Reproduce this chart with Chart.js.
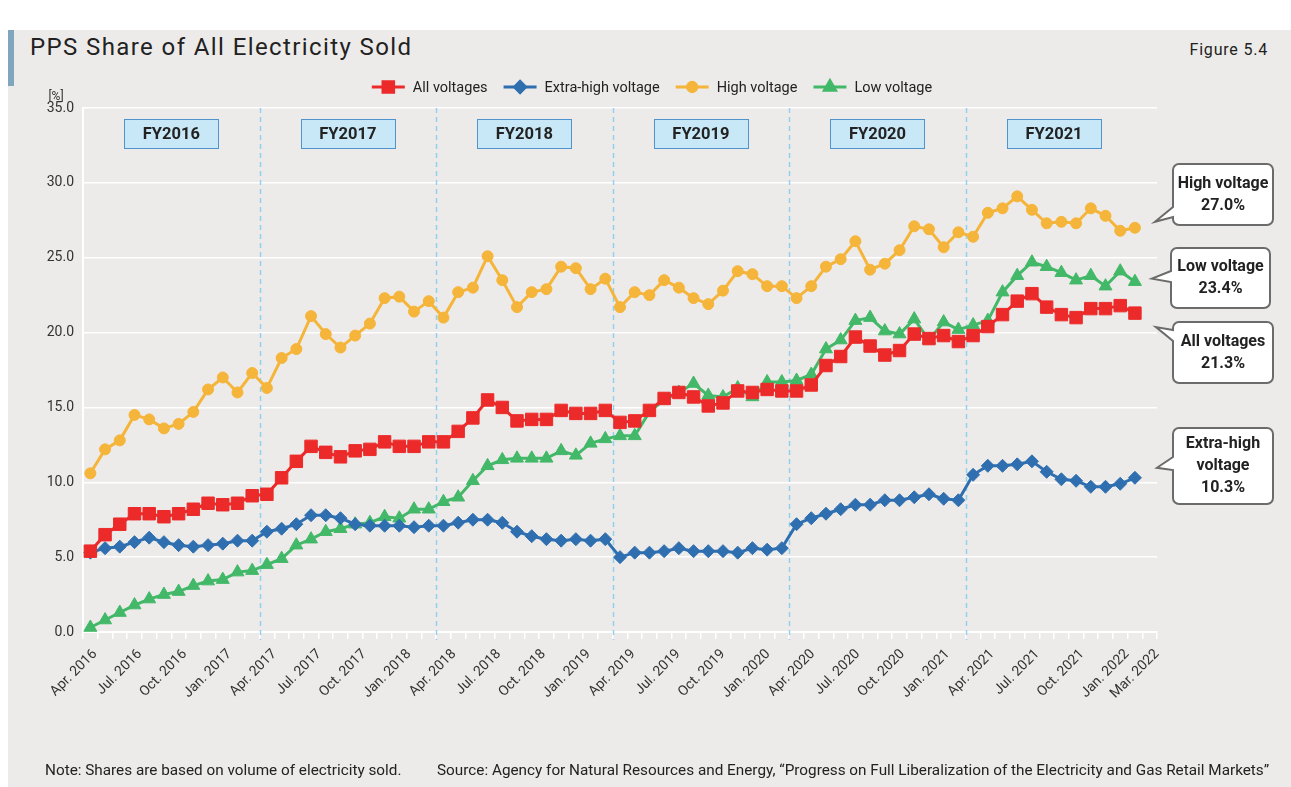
<!DOCTYPE html>
<html>
<head>
<meta charset="utf-8">
<script src="https://cdn.jsdelivr.net/npm/chart.js@4.4.1/dist/chart.umd.min.js"></script>
<style>
  html, body { margin: 0; padding: 0; }
  body { width: 1291px; height: 787px; position: relative; overflow: hidden; background: #fff;
         font-family: Roboto, 'DejaVu Sans', sans-serif; color: #222; }
  #card { position: absolute; left: 8px; top: 30px; right: 0; bottom: 0; background: #edebe9; }
  #bar { position: absolute; left: 8px; top: 30px; width: 6px; height: 56px; background: #7fa6bd; }
  #title { position: absolute; left: 30px; top: 33px; font-size: 24px; letter-spacing: 1.4px; }
  #fig { position: absolute; right: 23px; top: 40px; font-size: 16px; letter-spacing: 0.8px; }
  .foot { position: absolute; top: 761px; font-size: 15.3px; white-space: nowrap; }
  #chart { position: absolute; left: 0; top: 0; }
</style>
</head>
<body>
<div id="card"></div>
<div id="bar"></div>
<div id="title">PPS Share of All Electricity Sold</div>
<div id="fig">Figure 5.4</div>
<canvas id="chart" width="1291" height="787"></canvas>
<div class="foot" style="left:45px">Note: Shares are based on volume of electricity sold.</div>
<div class="foot" style="left:437px">Source: Agency for Natural Resources and Energy, “Progress on Full Liberalization of the Electricity and Gas Retail Markets”</div>
<script>
// months Apr. 2016 - Mar. 2022
const months = [
  'Apr. 2016','May 2016','Jun. 2016','Jul. 2016','Aug. 2016','Sep. 2016','Oct. 2016','Nov. 2016','Dec. 2016','Jan. 2017','Feb. 2017','Mar. 2017',
  'Apr. 2017','May 2017','Jun. 2017','Jul. 2017','Aug. 2017','Sep. 2017','Oct. 2017','Nov. 2017','Dec. 2017','Jan. 2018','Feb. 2018','Mar. 2018',
  'Apr. 2018','May 2018','Jun. 2018','Jul. 2018','Aug. 2018','Sep. 2018','Oct. 2018','Nov. 2018','Dec. 2018','Jan. 2019','Feb. 2019','Mar. 2019',
  'Apr. 2019','May 2019','Jun. 2019','Jul. 2019','Aug. 2019','Sep. 2019','Oct. 2019','Nov. 2019','Dec. 2019','Jan. 2020','Feb. 2020','Mar. 2020',
  'Apr. 2020','May 2020','Jun. 2020','Jul. 2020','Aug. 2020','Sep. 2020','Oct. 2020','Nov. 2020','Dec. 2020','Jan. 2021','Feb. 2021','Mar. 2021',
  'Apr. 2021','May 2021','Jun. 2021','Jul. 2021','Aug. 2021','Sep. 2021','Oct. 2021','Nov. 2021','Dec. 2021','Jan. 2022','Feb. 2022','Mar. 2022'
];
const tickLabels = ['Apr. 2016','Jul. 2016','Oct. 2016','Jan. 2017','Apr. 2017','Jul. 2017','Oct. 2017','Jan. 2018',
  'Apr. 2018','Jul. 2018','Oct. 2018','Jan. 2019','Apr. 2019','Jul. 2019','Oct. 2019','Jan. 2020',
  'Apr. 2020','Jul. 2020','Oct. 2020','Jan. 2021','Apr. 2021','Jul. 2021','Oct. 2021','Jan. 2022','Mar. 2022'];
const fiscalYears = ['FY2016','FY2017','FY2018','FY2019','FY2020','FY2021'];

const allVoltages = [5.4,6.5,7.2,7.9,7.9,7.7,7.9,8.2,8.6,8.5,8.6,9.1,
  9.2,10.3,11.4,12.4,12.0,11.7,12.1,12.2,12.7,12.4,12.4,12.7,
  12.7,13.4,14.3,15.5,15.0,14.1,14.2,14.2,14.8,14.6,14.6,14.8,
  14.0,14.1,14.8,15.6,16.0,15.7,15.1,15.3,16.1,16.0,16.2,16.1,
  16.1,16.5,17.8,18.4,19.7,19.1,18.5,18.8,19.9,19.6,19.8,19.4,
  19.8,20.4,21.2,22.1,22.6,21.7,21.2,21.0,21.6,21.6,21.8,21.3];
const extraHigh = [5.3,5.6,5.7,6.0,6.3,6.0,5.8,5.7,5.8,5.9,6.1,6.1,
  6.7,6.9,7.2,7.8,7.8,7.6,7.2,7.1,7.1,7.1,7.0,7.1,
  7.1,7.3,7.5,7.5,7.3,6.7,6.4,6.2,6.1,6.2,6.1,6.2,
  5.0,5.3,5.3,5.4,5.6,5.4,5.4,5.4,5.3,5.6,5.5,5.6,
  7.2,7.6,7.9,8.2,8.5,8.5,8.8,8.8,9.0,9.2,8.9,8.8,
  10.5,11.1,11.1,11.2,11.4,10.7,10.2,10.1,9.7,9.7,9.9,10.3];
const highVoltage = [10.6,12.2,12.8,14.5,14.2,13.6,13.9,14.7,16.2,17.0,16.0,17.3,
  16.3,18.3,18.9,21.1,19.9,19.0,19.8,20.6,22.3,22.4,21.4,22.1,
  21.0,22.7,23.0,25.1,23.5,21.7,22.7,22.9,24.4,24.3,22.9,23.6,
  21.7,22.7,22.5,23.5,23.0,22.3,21.9,22.8,24.1,23.9,23.1,23.1,
  22.3,23.1,24.4,24.9,26.1,24.2,24.6,25.5,27.1,26.9,25.7,26.7,
  26.4,28.0,28.3,29.1,28.2,27.3,27.4,27.3,28.3,27.8,26.8,27.0];
const lowVoltage = [0.3,0.8,1.3,1.8,2.2,2.5,2.7,3.1,3.4,3.5,4.0,4.1,
  4.5,4.9,5.8,6.2,6.7,6.9,7.2,7.3,7.7,7.6,8.2,8.2,
  8.7,9.0,10.1,11.1,11.5,11.6,11.6,11.6,12.1,11.8,12.6,12.9,
  13.1,13.1,14.7,15.5,16.0,16.6,15.8,15.7,16.3,15.7,16.7,16.7,
  16.8,17.2,18.9,19.5,20.8,21.0,20.1,19.9,20.9,19.5,20.7,20.2,
  20.5,20.8,22.7,23.8,24.7,24.4,24.0,23.5,23.8,23.1,24.1,23.4];

const tickMonths = tickLabels.map(l => months.indexOf(l));
const FONT = "Roboto, 'DejaVu Sans', sans-serif";

// callout boxes on the right: [x, y, w, h], pointer base on left edge, tip offset from last point
const callouts = [
  {ds: 2, name: ['High voltage'], box: [1173, 164, 100, 61], base: [207, 217], tip: [20, -6]},
  {ds: 3, name: ['Low voltage'], box: [1171, 248, 99, 60], base: [271, 282], tip: [17, -3]},
  {ds: 0, name: ['All voltages'], box: [1173, 322, 100, 61], base: [330, 341], tip: [21, 14]},
  {ds: 1, name: ['Extra-high', 'voltage'], box: [1173, 428, 100, 76], base: [457, 470], tip: [22, -10]}
];

function ds(label, data, color, style, radius) {
  return {
    label, data,
    borderColor: color, backgroundColor: color,
    borderWidth: 3,
    pointStyle: style, pointRadius: radius, pointBorderWidth: 1,
    pointBackgroundColor: color, pointBorderColor: color,
    tension: 0
  };
}

const decor = {
  id: 'decor',
  beforeDatasetsDraw(chart) {
    const {ctx, chartArea: a, scales: {x}} = chart;
    const half = (x.getPixelForValue(1) - x.getPixelForValue(0)) / 2;
    ctx.save();
    fiscalYears.forEach((fy, k) => {
      const x0 = x.getPixelForValue(k * 12) - half;
      const x1 = x.getPixelForValue(k * 12 + 11) + half;
      if (k > 0) {
        ctx.beginPath();
        ctx.setLineDash([5, 4]);
        ctx.strokeStyle = '#8ed2f0';
        ctx.lineWidth = 1.5;
        ctx.moveTo(Math.round(x0) + 0.5, a.top);
        ctx.lineTo(Math.round(x0) + 0.5, a.bottom + 8);
        ctx.stroke();
        ctx.setLineDash([]);
      }
      const cx = (x0 + x1) / 2;
      ctx.fillStyle = '#c8e8f8';
      ctx.strokeStyle = '#4f94cc';
      ctx.lineWidth = 1;
      ctx.fillRect(Math.round(cx - 47) + 0.5, 119.5, 94, 29);
      ctx.strokeRect(Math.round(cx - 47) + 0.5, 119.5, 94, 29);
      ctx.fillStyle = '#222';
      ctx.font = 'bold 16.5px ' + FONT;
      ctx.textAlign = 'center';
      ctx.textBaseline = 'middle';
      ctx.fillText(fy, cx, 134.5);
    });
    ctx.restore();
  },
  afterDraw(chart) {
    const {ctx} = chart;
    ctx.save();
    // unit label
    ctx.font = '12px ' + FONT;
    ctx.fillStyle = '#333';
    ctx.textAlign = 'center';
    ctx.textBaseline = 'middle';
    ctx.fillText('[%]', 56, 97);

    // legend
    ctx.font = '14.5px ' + FONT;
    const items = chart.data.datasets.map(d => ({d, w: 33 + 8 + ctx.measureText(d.label).width}));
    const gap = 16;
    const total = items.reduce((s, it) => s + it.w, 0) + gap * (items.length - 1);
    let lx = 652 - total / 2;
    const ly = 87;
    items.forEach(({d, w}) => {
      ctx.strokeStyle = d.borderColor;
      ctx.lineWidth = 3;
      ctx.beginPath();
      ctx.moveTo(lx, ly);
      ctx.lineTo(lx + 33, ly);
      ctx.stroke();
      ctx.fillStyle = d.borderColor;
      Chart.helpers.drawPoint(ctx, {pointStyle: d.pointStyle, radius: d.pointRadius * 0.85, rotation: 0, borderWidth: 1}, lx + 16.5, ly);
      ctx.fillStyle = '#222';
      ctx.textAlign = 'left';
      ctx.fillText(d.label, lx + 41, ly + 1);
      lx += w + gap;
    });

    // callouts
    callouts.forEach(c => {
      const meta = chart.getDatasetMeta(c.ds);
      const last = meta.data[meta.data.length - 1];
      const vals = chart.data.datasets[c.ds].data;
      const tx = last.x + c.tip[0], ty = last.y + c.tip[1];
      const [bx, by, bw, bh] = c.box;
      const r = 6;
      ctx.beginPath();
      ctx.moveTo(bx + r, by);
      ctx.lineTo(bx + bw - r, by);
      ctx.arcTo(bx + bw, by, bx + bw, by + r, r);
      ctx.lineTo(bx + bw, by + bh - r);
      ctx.arcTo(bx + bw, by + bh, bx + bw - r, by + bh, r);
      ctx.lineTo(bx + r, by + bh);
      ctx.arcTo(bx, by + bh, bx, by + bh - r, r);
      ctx.lineTo(bx, c.base[1]);
      ctx.lineTo(tx, ty);
      ctx.lineTo(bx, c.base[0]);
      ctx.lineTo(bx, by + r);
      ctx.arcTo(bx, by, bx + r, by, r);
      ctx.closePath();
      ctx.fillStyle = '#fff';
      ctx.fill();
      ctx.strokeStyle = '#6b6b6b';
      ctx.lineWidth = 2;
      ctx.stroke();
      const lines = c.name.concat([vals[vals.length - 1].toFixed(1) + '%']);
      ctx.fillStyle = '#222';
      ctx.font = 'bold 16px ' + FONT;
      ctx.textAlign = 'center';
      ctx.textBaseline = 'middle';
      const cy = by + bh / 2;
      lines.forEach((t, j) => ctx.fillText(t, bx + bw / 2, cy + (j - (lines.length - 1) / 2) * 22));
    });
    ctx.restore();
  }
};

new Chart(document.getElementById('chart'), {
  type: 'line',
  data: {
    labels: months.concat(['']),
    datasets: [
      ds('All voltages', allVoltages, '#ec2a2a', 'rect', 8.8),
      ds('Extra-high voltage', extraHigh, '#2f6fb0', 'rectRot', 6.5),
      ds('High voltage', highVoltage, '#f5b43a', 'circle', 5.5),
      ds('Low voltage', lowVoltage, '#42b868', 'triangle', 7.5)
    ]
  },
  options: {
    responsive: false,
    animation: false,
    layout: {padding: {left: 0, top: 108, right: 134, bottom: 75}},
    plugins: {legend: {display: false}, tooltip: {enabled: false}},
    scales: {
      x: {
        type: 'category',
        offset: true,
        grid: {offset: true, drawOnChartArea: false, color: '#fff', lineWidth: 1.5, tickLength: 7},
        border: {color: '#fff', width: 2},
        ticks: {display: false},
        afterFit: s => { s.height = 0; }
      },
      x2: {
        type: 'linear',
        position: 'bottom',
        bounds: 'data',
        min: -0.8,
        max: 71,
        grid: {display: false},
        border: {display: false},
        afterBuildTicks: s => { s.ticks = tickMonths.map(v => ({value: v})); },
        ticks: {
          autoSkip: false, maxRotation: 45, minRotation: 45, padding: 6,
          color: '#333', font: {family: FONT, size: 14},
          callback: (v, i) => tickLabels[i]
        },
        afterFit: s => { s.height = 80; }
      },
      y: {
        min: 0,
        max: 35,
        ticks: {stepSize: 5, padding: 9, color: '#333', font: {family: FONT, size: 14}, callback: v => v.toFixed(1)},
        grid: {color: '#fff', lineWidth: 1.5, drawTicks: false},
        border: {color: '#fff', width: 2},
        afterFit: s => { s.width = 83; }
      }
    }
  },
  plugins: [decor]
});
</script>
</body>
</html>
